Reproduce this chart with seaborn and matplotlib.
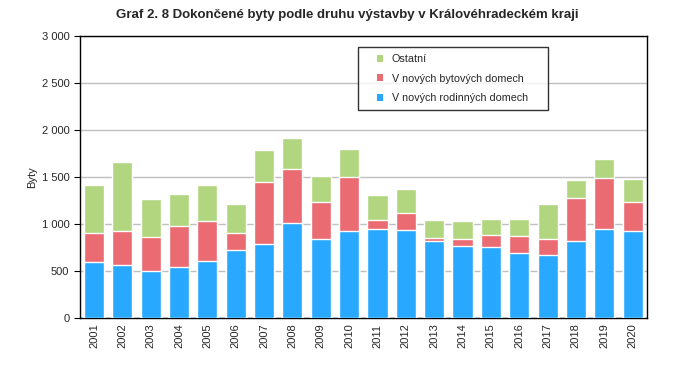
import matplotlib.pyplot as plt
import matplotlib.ticker as mticker
import matplotlib.patches as mpatches
from matplotlib.legend_handler import HandlerPatch
import pandas as pd
import seaborn as sns

# Data
years = [str(y) for y in range(2001, 2021)]
rodinne = [599, 564, 500, 543, 606, 727, 791, 1011, 844, 929,
           950, 940, 816, 773, 759, 695, 667, 823, 950, 929]
bytove = [309, 365, 365, 439, 429, 181, 659, 578, 394, 575,
          96, 181, 39, 71, 128, 181, 177, 457, 543, 309]
ostatni = [510, 734, 405, 341, 383, 308, 341, 329, 276, 297,
           266, 255, 191, 191, 170, 181, 372, 192, 202, 244]

labels = ["V nových rodinných domech", "V nových bytových domech", "Ostatní"]
colors = ["#29A8FF", "#EB6B72", "#B1D67F"]

df = pd.DataFrame({"year": years, "rod": rodinne, "byt": bytove, "ost": ostatni})
df["c1"] = df["rod"]
df["c2"] = df["rod"] + df["byt"]
df["c3"] = df["c2"] + df["ost"]

sns.set_style("white")
plt.rcParams["font.family"] = ["Liberation Sans", "DejaVu Sans"]

fig, ax = plt.subplots(figsize=(6.94, 3.72), dpi=100)
fig.subplots_adjust(left=0.115, right=0.932, top=0.902, bottom=0.145)

# Stacked bars: draw cumulative totals from top layer down
for col, color in zip(["c3", "c2", "c1"], colors[::-1]):
    sns.barplot(data=df, x="year", y=col, color=color, width=0.71,
                saturation=1, ax=ax, zorder=3)

ax.set_ylim(0, 3000)
ax.set_xlim(-0.5, len(years) - 0.5)
ax.yaxis.set_major_locator(mticker.MultipleLocator(500))
ax.yaxis.set_major_formatter(
    mticker.FuncFormatter(lambda v, p: f"{int(v):,}".replace(",", " ")))
ax.grid(axis="y", color="#BFBFBF", linewidth=1, zorder=0)
ax.set_axisbelow(True)

for s in ax.spines.values():
    s.set_color("black")
    s.set_linewidth(1)
    s.set_visible(True)

# ticks between categories on x
ax.set_xticks(range(len(years)))
ax.set_xticklabels(years, rotation=90, fontsize=8)
ax.xaxis.set_minor_locator(mticker.FixedLocator([i - 0.5 for i in range(len(years) + 1)]))
ax.tick_params(axis="x", which="major", length=0, pad=4)
ax.tick_params(axis="x", which="minor", length=4, color="black", direction="out")
ax.tick_params(axis="y", length=4, color="black", direction="out", labelsize=8, left=True)

ax.set_xlabel("")
ax.set_ylabel("Byty", fontsize=8, labelpad=3)

fig.suptitle("Graf 2. 8 Dokončené byty podle druhu výstavby v Královéhradeckém kraji",
             x=0.5, y=0.975, fontsize=9.5, fontweight="bold",
             family=["Liberation Sans Narrow", "Liberation Sans", "DejaVu Sans"])


# small square marker pushed to the right end of the handle box
def small_square(legend, orig_handle, xdescent, ydescent, width, height, fontsize):
    s = 5
    return mpatches.Rectangle((width - s - xdescent, (height - s) / 2 - ydescent), s, s)


handles = [mpatches.Rectangle((0, 0), 1, 1, facecolor=c, edgecolor="none")
           for c in colors[::-1]]
leg = ax.legend(handles, labels[::-1], loc="upper left",
                bbox_to_anchor=(0.490, 0.7473, 0.335, 0.2135), mode="expand",
                fontsize=7.75, frameon=True, fancybox=False, edgecolor="black",
                handlelength=1.8, handleheight=0.6, handletextpad=0.75,
                labelspacing=0.9, borderpad=0.6, borderaxespad=0,
                handler_map={mpatches.Rectangle: HandlerPatch(patch_func=small_square)})
leg.get_frame().set_linewidth(1)

fig.savefig("out.png", dpi=100)
